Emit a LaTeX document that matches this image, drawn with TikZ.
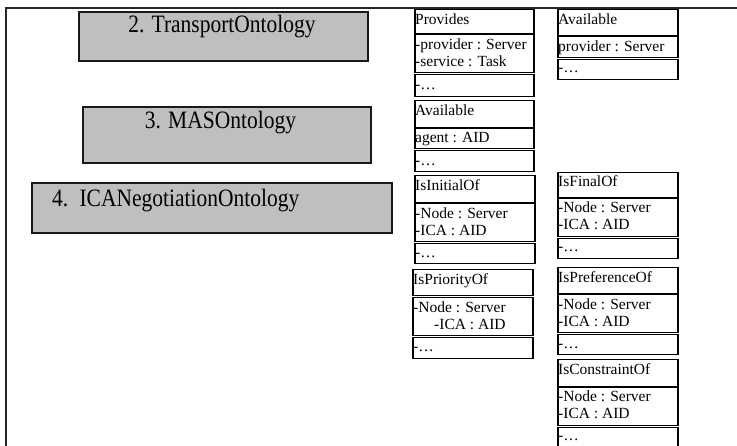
\documentclass[tikz,border=0pt]{standalone}
\usepackage{fontspec}
\setmainfont{Liberation Serif}
\usepackage{graphicx}
\tikzset{
  frameline/.style={line width=1.6pt, draw=black!85},
  ontobox/.style={draw=black!90, fill=black!25, line width=1.6pt, inner sep=0pt, anchor=north west},
  bigtext/.style={inner sep=0pt, font=\fontsize{25}{27}\selectfont},
  cbox/.style={draw=black, line width=1.5pt, inner sep=0pt, anchor=north west},
  ctext/.style={anchor=base west, inner sep=0pt, font=\fontsize{15.5}{17}\selectfont}
}
% #1 name, #2 x1, #3 y1, #4 x2, #5 y2
\newcommand\cmpt[5]{%
  \node[cbox, minimum width={(#4-#2)*1pt}, minimum height={(#5-#3)*1pt}] (#1) at (#2,#3) {};}
\newcommand\sqx[1]{\scalebox{0.86}[1]{#1}}
\begin{document}
\begin{tikzpicture}[x=1pt,y=-1pt]
\useasboundingbox (0,0) rectangle (737,446);
\begin{scope}
\clip (0,0) rectangle (737,446);
% frame
\draw[frameline] (737,8) -- (6,8) -- (6,447);

% ontology boxes
\node[ontobox, minimum width=289pt, minimum height=49pt] (o2) at (78,11) {};
\node[bigtext, anchor=base] (o2t) at (222,33) {\sqx{2. TransportOntology}};
\node[ontobox, minimum width=288pt, minimum height=56pt] (o3) at (82,106) {};
\node[bigtext, anchor=base] (o3t) at (220.5,129) {\sqx{3. MASOntology}};
\node[ontobox, minimum width=360pt, minimum height=50pt] (o4) at (31,182) {};
\node[bigtext, anchor=base west] (o4t) at (52,207) {\sqx{4.\hspace{13pt}ICANegotiationOntology}};

% column 1
\cmpt{pn}{414}{9}{533}{33}
\cmpt{pa}{414}{34}{533}{72}
\cmpt{po}{414}{74}{533}{96}
\node[ctext] (pnt) at (415,25) {Provides};
\node[ctext] (pat1) at (415,50) {-provider : Server};
\node[ctext] (pat2) at (415,67) {-service : Task};
\node[ctext] (pot) at (415,90) {-…};

\cmpt{an}{414}{100}{533}{127}
\cmpt{aa}{414}{128}{533}{148}
\cmpt{ao}{414}{150}{533}{171}
\node[ctext] (ant) at (415,116) {Available};
\node[ctext] (aat) at (415,143) {agent : AID};
\node[ctext] (aot) at (415,166) {-…};

\cmpt{in}{414}{175}{534}{202}
\cmpt{ia}{414}{203}{534}{241}
\cmpt{io}{414}{243}{534}{263}
\node[ctext] (int) at (415,191) {IsInitialOf};
\node[ctext] (iat1) at (415,219) {-Node : Server};
\node[ctext] (iat2) at (415,236) {-ICA : AID};
\node[ctext] (iot) at (415,258) {-…};

\cmpt{prn}{412}{269}{532}{295}
\cmpt{pra}{412}{297}{532}{335}
\cmpt{pro}{412}{337}{532}{358}
\node[ctext] (prnt) at (413,285) {IsPriorityOf};
\node[ctext] (prat1) at (413,313) {-Node : Server};
\node[ctext] (prat2) at (434,330) {-ICA : AID};
\node[ctext] (prot) at (413,352) {-…};

% column 2
\cmpt{vn}{557}{9}{677}{35}
\cmpt{va}{557}{36}{677}{57}
\cmpt{vo}{557}{59}{677}{79}
\node[ctext] (vnt) at (558,25) {Available};
\node[ctext] (vat) at (558,52) {provider : Server};
\node[ctext] (vot) at (558,73) {-…};

\cmpt{fn}{557}{172}{677}{197}
\cmpt{fa}{557}{198}{677}{236}
\cmpt{fo}{557}{238}{677}{258}
\node[ctext] (fnt) at (558,187) {IsFinalOf};
\node[ctext] (fat1) at (558,213) {-Node : Server};
\node[ctext] (fat2) at (558,230) {-ICA : AID};
\node[ctext] (fot) at (558,252) {-…};

\cmpt{ren}{557}{267}{677}{293}
\cmpt{rea}{557}{294}{677}{332}
\cmpt{reo}{557}{334}{677}{354}
\node[ctext] (rent) at (558,283) {IsPreferenceOf};
\node[ctext] (reat1) at (558,310) {-Node : Server};
\node[ctext] (reat2) at (558,327) {-ICA : AID};
\node[ctext] (reot) at (558,349) {-…};

\cmpt{cn}{557}{359}{677}{386}
\cmpt{ca}{557}{387}{677}{425}
\cmpt{co}{557}{427}{677}{452}
\node[ctext] (cnt) at (558,375) {IsConstraintOf};
\node[ctext] (cat1) at (558,402) {-Node : Server};
\node[ctext] (cat2) at (558,419) {-ICA : AID};
\node[ctext] (cot) at (558,441) {-…};
\end{scope}
\end{tikzpicture}
\end{document}
